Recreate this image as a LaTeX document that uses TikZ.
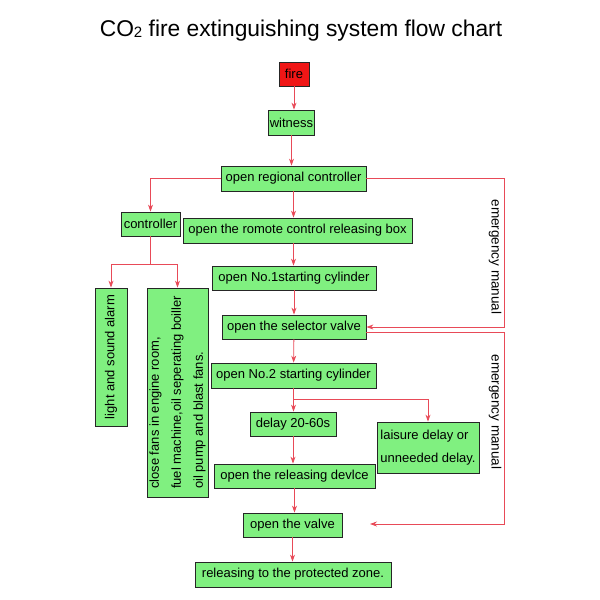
\documentclass[tikz,border=0pt]{standalone}
\usepackage{fontspec}
\setmainfont{Liberation Sans}
\usetikzlibrary{arrows.meta, positioning, calc}
\usepackage{xcolor}
\definecolor{boxGreen}{RGB}{128, 240, 128}
\definecolor{fireRed}{RGB}{240, 22, 22}
\definecolor{lineRed}{RGB}{232, 74, 88}

\begin{document}
\begin{tikzpicture}[
    x=1pt, y=-1pt,
    box/.style={rectangle, draw=black!85, fill=boxGreen, line width=0.8pt, align=center, minimum height=25pt, inner sep=1pt, font=\fontsize{13}{15}\selectfont},
    arrow/.style={-{Stealth[length=7pt, width=5pt]}, line width=0.8pt, lineRed},
    link/.style={line width=0.8pt, lineRed},
    note/.style={font=\fontsize{13.5}{15}\selectfont, rotate=-90}
]
\useasboundingbox (0, 0) rectangle (600, 600);

\node[anchor=base, font=\fontsize{22.8}{26}\selectfont] (title) at (301, 36) {CO\raisebox{-1.5pt}{\fontsize{15}{15}\selectfont 2} fire extinguishing system flow chart};

% Main column
\node[box, fill=fireRed, minimum width=30pt, minimum height=24pt] (fire) at (294, 74) {fire};
\node[box, minimum width=45pt] (witness) at (291.5, 122.5) {witness};
\node[box, minimum width=145pt] (regional) at (293.5, 178.5) {open regional controller};
\node[box, minimum width=59pt, minimum height=24pt] (controller) at (150.5, 224) {controller};
\node[box, minimum width=229pt] (remote) at (297.5, 230.5) {open the romote control releasing box};
\node[box, minimum width=164pt, minimum height=24pt] (cyl1) at (294, 278) {open No.1starting cylinder};
\node[box, minimum width=144pt, minimum height=24pt] (selector) at (294, 327) {open the selector valve};
\node[box, minimum width=165pt] (cyl2) at (293.5, 375.5) {open No.2 starting cylinder};
\node[box, minimum width=86pt, minimum height=24pt] (delay) at (293, 424) {delay 20-60s};
\node[box, minimum width=102pt, minimum height=51pt, align=left, font=\fontsize{13}{22.5}\selectfont] (leisure) at (428, 447.5) {laisure delay or\\unneeded delay.};
\node[box, minimum width=161pt, minimum height=24pt] (device) at (294.5, 476) {open the releasing devlce};
\node[box, minimum width=99pt, minimum height=24pt] (valve) at (292.5, 525) {open the valve};
\node[box, minimum width=196pt] (zone) at (293, 574.5) {releasing to the protected zone.};

% Rotated boxes under the controller
\node[box, rotate=90, minimum width=138pt, minimum height=32pt] (alarm) at (111, 357) {light and sound alarm};
\node[box, rotate=90, minimum width=209pt, minimum height=61pt, align=left, font=\fontsize{13}{22}\selectfont] (fans) at (177.5, 392.5) {close fans in engine room,\\fuel machine,oil seperating boiller\\oil pump and blast fans.};

% Helper points
\coordinate (fork) at (150.5, 264);
\coordinate (split) at (293, 399);
\coordinate (rail) at (504, 0);
\coordinate (valvein) at (370, 524);

% Main flow
\draw[arrow] (fire) -- (witness.north -| fire);
\draw[arrow] (witness) -- (regional.north -| witness);
\draw[arrow] (regional) -- (regional |- remote.north);
\draw[arrow] (regional |- remote.south) -- (cyl1.north -| regional);
\draw[arrow] (cyl1) -- (selector);
\draw[arrow] (selector) -- (cyl2);
\draw[arrow] (cyl2) -- (delay.north -| cyl2);
\draw[arrow] (split) -| (leisure);
\draw[arrow] (delay) -- (delay |- device.north);
\draw[arrow] (device) -- (device |- valve.north);
\draw[arrow] (valve) -- (valve |- zone.north);

% Controller branch
\draw[arrow] (regional.west) -| (controller);
\draw[link] (controller) -- (fork);
\draw[arrow] (fork) -| (alarm);
\draw[arrow] (fork) -| (fans);

% Emergency manual paths
\draw[arrow] (regional.east) -| (rail |- selector.east) -- (selector.east);
\draw[arrow] ([yshift=-5pt]selector.east) -| (rail |- valvein) -- (valvein);
\node[note] (manual1) at (495, 257) {emergency manual};
\node[note] (manual2) at (495, 412) {emergency manual};

\end{tikzpicture}
\end{document}
